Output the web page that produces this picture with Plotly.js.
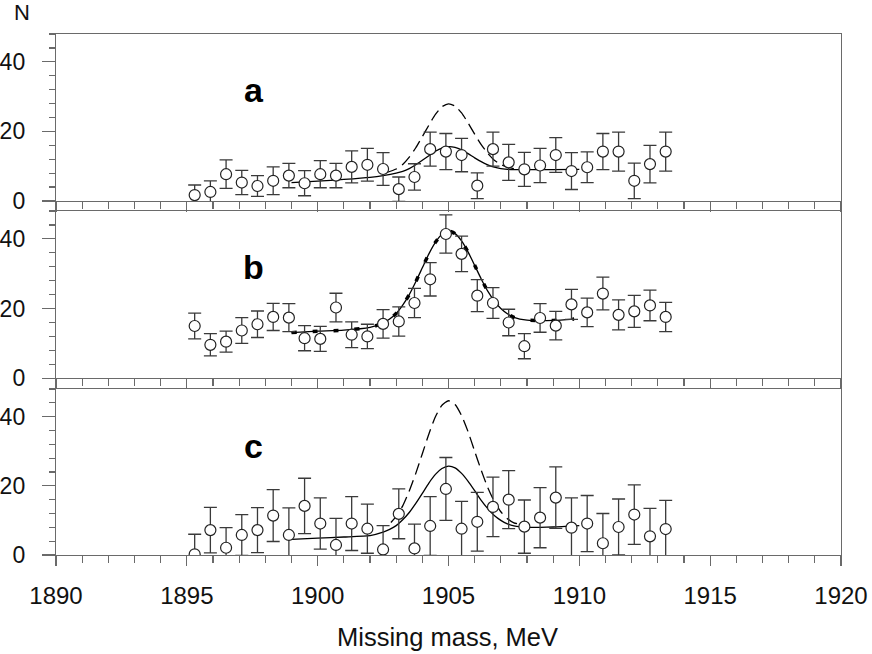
<!DOCTYPE html>
<html>
<head>
<meta charset="utf-8">
<script src="https://cdn.plot.ly/plotly-3.0.1.min.js"></script>
<style>
  html, body { margin: 0; padding: 0; background: #fff; }
  #chart { width: 872px; height: 654px; }
</style>
</head>
<body>
<div id="chart"></div>
<script>
// measured points, same mass bins in all three panels
const mass = [1895.3, 1895.9, 1896.5, 1897.1, 1897.7, 1898.3, 1898.9, 1899.5, 1900.1, 1900.7,
  1901.3, 1901.9, 1902.5, 1903.1, 1903.7, 1904.3, 1904.9, 1905.5, 1906.1, 1906.7,
  1907.3, 1907.9, 1908.5, 1909.1, 1909.7, 1910.3, 1910.9, 1911.5, 1912.1, 1912.7, 1913.3];

const aN = [1.7, 2.6, 7.7, 5.3, 4.3, 5.8, 7.3, 5.1, 7.7, 7.3, 9.8, 10.4, 9.2, 3.4, 6.9, 14.9,
  14.2, 13.2, 4.4, 14.9, 11.1, 9.1, 10.2, 13.2, 8.6, 9.7, 14.2, 14.2, 5.8, 10.6, 14.2];
const aErr = [2.9, 3.2, 4.1, 3.5, 3.0, 4.0, 3.5, 3.6, 3.9, 3.5, 4.6, 4.7, 4.7, 3.5, 3.8, 4.9,
  5.2, 4.8, 3.7, 4.9, 5.2, 4.9, 4.9, 5.0, 5.3, 4.4, 5.2, 5.6, 5.1, 5.4, 5.6];

const bN = [15.0, 9.6, 10.5, 13.7, 15.5, 17.6, 17.4, 11.5, 11.3, 20.3, 12.5, 12.0, 15.6, 16.3,
  21.6, 28.4, 41.4, 35.7, 23.7, 21.6, 16.0, 9.2, 17.3, 15.1, 21.2, 18.9, 24.3, 18.2, 19.2, 20.9, 17.6];
const bErr = [3.7, 3.2, 3.0, 3.7, 3.8, 3.9, 4.0, 3.6, 3.6, 4.1, 3.7, 3.5, 4.1, 4.2, 4.2, 4.8,
  5.5, 5.1, 4.6, 4.4, 3.8, 3.6, 4.1, 4.1, 4.3, 4.1, 4.7, 4.3, 4.6, 4.4, 4.2];

const cN = [0.2, 7.2, 2.1, 5.8, 7.2, 11.4, 5.8, 14.2, 9.1, 2.9, 9.1, 7.6, 1.6, 11.9, 1.9, 8.4,
  19.1, 7.6, 9.6, 13.9, 16.0, 8.2, 10.8, 16.6, 7.9, 9.1, 3.4, 8.1, 11.7, 5.4, 7.5];
const cErr = [5.8, 6.6, 5.8, 5.9, 6.5, 7.5, 7.8, 8.0, 7.4, 7.7, 7.8, 7.1, 6.9, 7.2, 7.0, 8.5,
  9.1, 7.9, 8.5, 8.6, 8.4, 7.7, 8.7, 8.9, 8.6, 8.1, 8.6, 8.1, 8.6, 8.1, 8.3];

// fitted curves
const aFitX = [1899, 1900, 1901, 1902, 1902.5, 1903, 1903.25, 1903.5, 1903.75, 1904, 1904.25, 1904.5,
  1904.75, 1905, 1905.25, 1905.5, 1905.75, 1906, 1906.25, 1906.5, 1906.75, 1907, 1907.5, 1908, 1909, 1910];
const aFit = [5.3, 5.7, 6.2, 6.8, 7.3, 8.0, 8.5, 9.3, 10.4, 11.7, 13.0, 14.3,
  15.2, 15.6, 15.4, 14.7, 13.6, 12.4, 11.3, 10.4, 9.7, 9.3, 9.0, 9.0, 9.0, 9.1];
const aFullX = [1902.6, 1903, 1903.25, 1903.5, 1903.75, 1904, 1904.25, 1904.5, 1904.75, 1905,
  1905.25, 1905.5, 1905.75, 1906, 1906.25, 1906.5, 1906.75, 1907, 1907.25, 1907.5];
const aFull = [8.1, 9.2, 10.5, 12.6, 15.3, 18.5, 21.8, 24.9, 27.1, 27.9,
  27.3, 25.3, 22.4, 19.2, 16.2, 13.7, 11.7, 10.5, 9.7, 9.3];

const bFitX = [1899, 1900, 1901, 1902, 1902.5, 1902.75, 1903, 1903.25, 1903.5, 1903.75, 1904, 1904.25,
  1904.5, 1904.75, 1905, 1905.25, 1905.5, 1905.75, 1906, 1906.25, 1906.5, 1906.75, 1907, 1907.25,
  1907.5, 1908, 1909, 1909.8];
const bFit = [13.1, 13.5, 13.8, 14.6, 15.8, 17.0, 18.6, 21.0, 24.0, 27.7, 31.7, 35.7,
  39.0, 41.3, 42.2, 41.5, 39.4, 36.2, 32.4, 28.5, 25.0, 22.2, 20.0, 18.5,
  17.5, 16.7, 16.6, 17.0];

const cFitX = [1899, 1900, 1901, 1902, 1902.5, 1902.75, 1903, 1903.25, 1903.5, 1903.75, 1904, 1904.25,
  1904.5, 1904.75, 1905, 1905.25, 1905.5, 1905.75, 1906, 1906.25, 1906.5, 1906.75, 1907, 1907.25,
  1907.5, 1908, 1908.5, 1909, 1910];
const cFit = [4.5, 4.9, 5.2, 5.6, 6.6, 7.4, 8.5, 10.2, 12.3, 14.9, 17.8, 20.8,
  23.3, 25.0, 25.7, 25.2, 23.6, 21.3, 18.6, 15.8, 13.4, 11.4, 10.0, 9.0,
  8.4, 8.0, 8.0, 8.1, 8.5];
const cFullX = [1902.8, 1903, 1903.25, 1903.5, 1903.75, 1904, 1904.25, 1904.5, 1904.75, 1905,
  1905.25, 1905.5, 1905.75, 1906, 1906.25, 1906.5, 1906.75, 1907, 1907.25, 1907.5, 1907.7];
const cFull = [9.4, 11.2, 14.2, 18.5, 23.6, 29.3, 35.0, 40.0, 43.3, 44.6,
  43.5, 40.3, 35.6, 30.0, 24.5, 19.5, 15.5, 12.5, 10.5, 9.3, 8.9];

const panelNames = ['a', 'b', 'c'];

const axisGrey = '#6a6a6a';
const fontFamily = 'Liberation Sans, Arial, sans-serif';

function points(y, err, xa, ya) {
  return {
    x: mass, y: y, xaxis: xa, yaxis: ya,
    type: 'scatter', mode: 'markers',
    marker: { symbol: 'circle', size: 11, color: 'white', line: { color: '#222', width: 1.2 } },
    error_y: { type: 'data', array: err, visible: true, color: '#3a3a3a', thickness: 1.3, width: 6.5 },
    showlegend: false, hoverinfo: 'skip'
  };
}

function curve(x, y, xa, ya, dash, w) {
  return {
    x: x, y: y, xaxis: xa, yaxis: ya,
    type: 'scatter', mode: 'lines',
    line: { color: 'black', width: w, dash: dash, shape: 'spline', smoothing: 0.6 },
    showlegend: false, hoverinfo: 'skip'
  };
}

const traces = [
  curve(aFitX, aFit, 'x', 'y', 'solid', 1.3),
  curve(aFullX, aFull, 'x', 'y', '12px,6px', 1.3),
  points(aN, aErr, 'x', 'y'),
  curve(bFitX, bFit, 'x2', 'y2', 'solid', 1.3),
  curve(bFitX, bFit, 'x2', 'y2', '5px,16px', 3.5),
  points(bN, bErr, 'x2', 'y2'),
  curve(cFitX, cFit, 'x3', 'y3', 'solid', 1.3),
  curve(cFullX, cFull, 'x3', 'y3', '12px,6px', 1.3),
  points(cN, cErr, 'x3', 'y3')
];

function xAxis(anchor, labels) {
  return {
    anchor: anchor, range: [1890, 1920], tick0: 1890, dtick: 5,
    showgrid: false, zeroline: false,
    showline: true, mirror: true, linecolor: axisGrey, linewidth: 1.2,
    ticks: 'outside', ticklen: 10, tickwidth: 1.2, tickcolor: axisGrey,
    minor: { dtick: 1, ticks: 'outside', ticklen: 7, tickwidth: 1.2, tickcolor: axisGrey },
    showticklabels: labels, ticklabelstandoff: 9,
    tickfont: { family: fontFamily, size: 24, color: '#111' }
  };
}

function yAxis(anchor, domain) {
  return {
    anchor: anchor, domain: domain, range: [0, 48], tick0: 0, dtick: 20,
    showgrid: false, zeroline: false,
    showline: true, mirror: true, linecolor: axisGrey, linewidth: 1.2,
    ticks: 'outside', ticklen: 13, tickwidth: 1.2, tickcolor: axisGrey,
    minor: { dtick: 4, ticks: 'outside', ticklen: 6, tickwidth: 1.2, tickcolor: axisGrey },
    ticklabelstandoff: 12,
    tickfont: { family: fontFamily, size: 23, color: '#111' }
  };
}

const labelFont = { family: fontFamily, size: 34, color: 'black', weight: 'bold' };

const layout = {
  width: 872, height: 654,
  margin: { l: 56, r: 31, t: 34, b: 99 },
  paper_bgcolor: 'white', plot_bgcolor: 'white',
  xaxis: xAxis('y', false),
  xaxis2: xAxis('y2', false),
  xaxis3: xAxis('y3', true),
  yaxis: yAxis('x', [0.6795, 1]),
  yaxis2: yAxis('x2', [0.3392, 0.6603]),
  yaxis3: yAxis('x3', [0, 0.3186]),
  annotations: [
    { text: '<b>' + panelNames[0] + '</b>', x: 1897.55, y: 32, xref: 'x', yref: 'y', showarrow: false, font: labelFont },
    { text: '<b>' + panelNames[1] + '</b>', x: 1897.55, y: 32, xref: 'x2', yref: 'y2', showarrow: false, font: labelFont },
    { text: '<b>' + panelNames[2] + '</b>', x: 1897.55, y: 31.6, xref: 'x3', yref: 'y3', showarrow: false, font: labelFont },
    { text: 'N', x: -0.0427, y: 1.042, xref: 'paper', yref: 'paper', xanchor: 'center', yanchor: 'middle',
      showarrow: false, font: { family: fontFamily, size: 22, color: '#111' } },
    { text: 'Missing mass, MeV', x: 0.4987, y: -0.157, xref: 'paper', yref: 'paper', xanchor: 'center', yanchor: 'middle',
      showarrow: false, font: { family: fontFamily, size: 25.5, color: '#111' } }
  ]
};

Plotly.newPlot('chart', traces, layout, { staticPlot: true });
</script>
</body>
</html>
